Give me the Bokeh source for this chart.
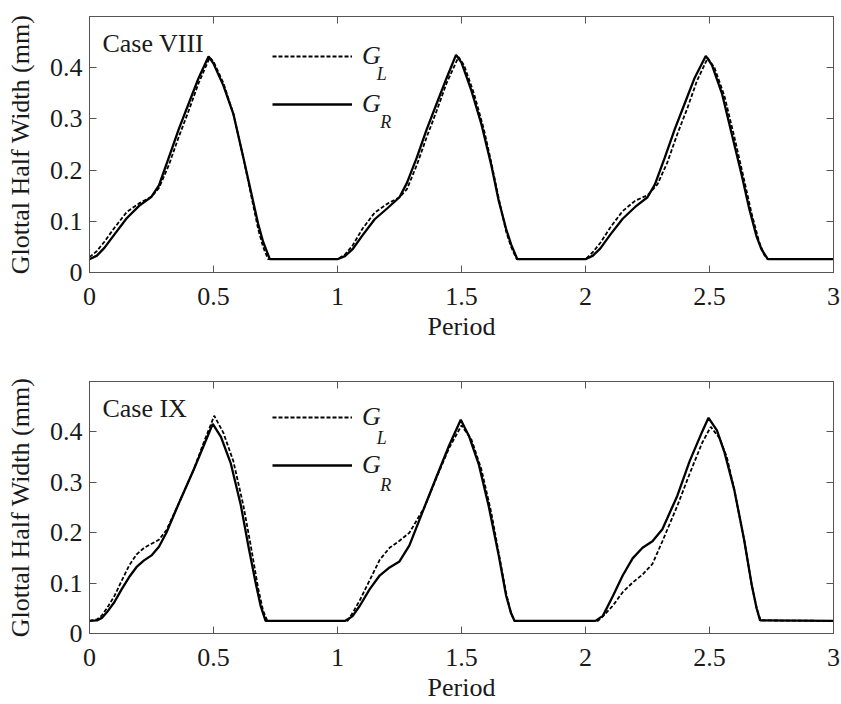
from bokeh.plotting import figure
from bokeh.models import Range1d, FixedTicker, LinearAxis, Legend, LegendItem, Label
from bokeh.layouts import column
from bokeh.embed import file_html
from bokeh.resources import INLINE

# ---------------- data ----------------
# Case VIII
x8_R = [0, 0.03, 0.06, 0.1, 0.15, 0.2, 0.25, 0.28, 0.32, 0.36, 0.40, 0.44, 0.48, 0.50, 0.54, 0.58, 0.62, 0.65, 0.68, 0.70, 0.727,
        1.0, 1.03, 1.06, 1.1, 1.15, 1.2, 1.25, 1.28, 1.32, 1.36, 1.40, 1.44, 1.478, 1.50, 1.54, 1.58, 1.62, 1.65, 1.68, 1.70, 1.725,
        2.0, 2.03, 2.06, 2.1, 2.15, 2.2, 2.25, 2.28, 2.32, 2.36, 2.40, 2.44, 2.485, 2.51, 2.55, 2.59, 2.63, 2.66, 2.69, 2.71, 2.735, 3.0]
y8_R = [0.026, 0.033, 0.048, 0.074, 0.106, 0.13, 0.148, 0.17, 0.225, 0.28, 0.33, 0.38, 0.422, 0.408, 0.365, 0.31, 0.225, 0.16, 0.095, 0.06, 0.026,
        0.026, 0.032, 0.045, 0.072, 0.104, 0.125, 0.147, 0.175, 0.225, 0.28, 0.33, 0.38, 0.425, 0.41, 0.355, 0.29, 0.21, 0.14, 0.085, 0.055, 0.026,
        0.026, 0.033, 0.047, 0.074, 0.105, 0.128, 0.147, 0.172, 0.225, 0.28, 0.33, 0.38, 0.423, 0.405, 0.35, 0.27, 0.19, 0.125, 0.07, 0.045, 0.026, 0.026]
x8_L = [0, 0.03, 0.06, 0.1, 0.15, 0.2, 0.25, 0.28, 0.32, 0.36, 0.40, 0.44, 0.485, 0.50, 0.54, 0.58, 0.62, 0.65, 0.68, 0.70, 0.72,
        1.0, 1.03, 1.06, 1.1, 1.15, 1.2, 1.25, 1.28, 1.32, 1.36, 1.40, 1.44, 1.488, 1.51, 1.55, 1.59, 1.62, 1.65, 1.68, 1.70, 1.723,
        2.0, 2.03, 2.06, 2.1, 2.15, 2.2, 2.25, 2.29, 2.33, 2.37, 2.41, 2.45, 2.493, 2.52, 2.56, 2.60, 2.64, 2.67, 2.70, 2.72, 2.735, 3.0]
y8_L = [0.03, 0.042, 0.06, 0.087, 0.118, 0.135, 0.148, 0.165, 0.21, 0.265, 0.316, 0.37, 0.42, 0.412, 0.37, 0.31, 0.225, 0.155, 0.085, 0.05, 0.026,
        0.026, 0.035, 0.052, 0.085, 0.117, 0.134, 0.147, 0.163, 0.21, 0.265, 0.316, 0.37, 0.421, 0.405, 0.35, 0.28, 0.215, 0.145, 0.08, 0.05, 0.026,
        0.026, 0.04, 0.058, 0.088, 0.12, 0.14, 0.151, 0.172, 0.215, 0.27, 0.32, 0.375, 0.419, 0.4, 0.345, 0.265, 0.18, 0.115, 0.06, 0.035, 0.026, 0.026]

# Case IX
x9_R = [0, 0.03, 0.05, 0.07, 0.1, 0.13, 0.16, 0.19, 0.22, 0.25, 0.28, 0.31, 0.36, 0.42, 0.46, 0.497, 0.53, 0.57, 0.61, 0.64, 0.67, 0.69, 0.71,
        1.03, 1.06, 1.09, 1.13, 1.17, 1.21, 1.25, 1.29, 1.35, 1.40, 1.45, 1.497, 1.53, 1.57, 1.61, 1.65, 1.68, 1.70, 1.714,
        2.04, 2.07, 2.11, 2.15, 2.19, 2.23, 2.27, 2.31, 2.37, 2.42, 2.47, 2.496, 2.53, 2.56, 2.60, 2.64, 2.67, 2.69, 2.704, 3.0]
y9_R = [0.025, 0.026, 0.031, 0.042, 0.062, 0.088, 0.112, 0.132, 0.145, 0.155, 0.172, 0.2, 0.258, 0.325, 0.372, 0.416, 0.39, 0.337, 0.255, 0.175, 0.1, 0.055, 0.025,
        0.025, 0.034, 0.055, 0.088, 0.115, 0.131, 0.143, 0.175, 0.25, 0.312, 0.373, 0.424, 0.392, 0.335, 0.252, 0.155, 0.075, 0.04, 0.025,
        0.025, 0.035, 0.074, 0.115, 0.149, 0.17, 0.183, 0.207, 0.273, 0.342, 0.4, 0.428, 0.403, 0.36, 0.285, 0.185, 0.097, 0.05, 0.026, 0.025]
x9_L = [0, 0.03, 0.05, 0.07, 0.1, 0.13, 0.16, 0.19, 0.22, 0.25, 0.28, 0.31, 0.36, 0.42, 0.46, 0.503, 0.54, 0.58, 0.62, 0.65, 0.68, 0.70, 0.717,
        1.04, 1.06, 1.09, 1.13, 1.17, 1.21, 1.25, 1.29, 1.35, 1.40, 1.45, 1.50, 1.54, 1.58, 1.62, 1.65, 1.68, 1.70, 1.714,
        2.05, 2.07, 2.11, 2.15, 2.19, 2.23, 2.27, 2.31, 2.37, 2.42, 2.47, 2.505, 2.54, 2.57, 2.60, 2.64, 2.67, 2.69, 2.706, 3.0]
y9_L = [0.025, 0.028, 0.036, 0.05, 0.074, 0.105, 0.135, 0.157, 0.17, 0.178, 0.186, 0.205, 0.258, 0.325, 0.378, 0.432, 0.398, 0.342, 0.255, 0.175, 0.09, 0.045, 0.025,
        0.025, 0.04, 0.066, 0.106, 0.146, 0.17, 0.184, 0.2, 0.25, 0.31, 0.368, 0.413, 0.385, 0.326, 0.24, 0.16, 0.08, 0.04, 0.025,
        0.025, 0.034, 0.055, 0.082, 0.101, 0.117, 0.138, 0.183, 0.253, 0.317, 0.378, 0.41, 0.388, 0.35, 0.285, 0.185, 0.097, 0.05, 0.026, 0.025]

x_ticks = [0, 0.5, 1, 1.5, 2, 2.5, 3]
x_tick_labels = ["0", "0.5", "1", "1.5", "2", "2.5", "3"]
y_ticks = [0, 0.1, 0.2, 0.3, 0.4]
y_tick_labels = ["0", "0.1", "0.2", "0.3", "0.4"]
case_labels = ["Case VIII", "Case IX"]
series_names = ["G", "G"]
series_subs = ["L", "R"]
x_title = "Period"
y_title = "Glottal Half Width (mm)"

FONT = "Liberation Serif"
AX = "#555555"
TXT = "#1a1a1a"


def style_axis(ax, labels):
    ax.ticker = FixedTicker(ticks=list(labels.keys()))
    ax.major_label_overrides = labels
    ax.major_tick_in = 7
    ax.major_tick_out = 0
    ax.minor_tick_line_color = None
    ax.axis_line_color = AX
    ax.major_tick_line_color = AX
    ax.major_label_text_font = FONT
    ax.major_label_text_font_size = "26px"
    ax.major_label_text_color = TXT
    ax.axis_label_text_font = FONT
    ax.axis_label_text_font_size = "26px"
    ax.axis_label_text_font_style = "normal"
    ax.axis_label_text_color = TXT


def make(xR, yR, xL, yL, case, top, bottom, height):
    p = figure(width=841, height=height, x_range=Range1d(0, 3), y_range=Range1d(0, 0.5),
               output_backend="svg", toolbar_location=None,
               min_border_left=89, min_border_right=8, min_border_top=top, min_border_bottom=bottom)
    p.grid.visible = False
    p.outline_line_color = AX
    p.background_fill_color = "white"
    p.border_fill_color = "white"

    style_axis(p.xaxis[0], dict(zip(x_ticks, x_tick_labels)))
    style_axis(p.yaxis[0], dict(zip(y_ticks, y_tick_labels)))
    p.xaxis[0].axis_label = x_title
    p.xaxis[0].major_label_standoff = 15
    p.xaxis[0].axis_label_standoff = 4
    p.yaxis[0].axis_label = y_title
    p.yaxis[0].major_label_standoff = 7
    p.yaxis[0].axis_label_standoff = 12

    ra = LinearAxis()
    style_axis(ra, {t: "" for t in y_ticks})
    ra.major_label_text_font_size = "1px"
    ra.major_label_standoff = 0
    p.add_layout(ra, "right")
    ta = LinearAxis()
    style_axis(ta, {t: "" for t in x_ticks})
    ta.major_label_text_font_size = "1px"
    ta.major_label_standoff = 0
    p.add_layout(ta, "above")

    rL = p.line(xL, yL, line_color="black", line_width=1.8, line_dash="4 2")
    rR = p.line(xR, yR, line_color="black", line_width=2.3)

    leg = Legend(items=[LegendItem(label=series_names[0], renderers=[rL]),
                        LegendItem(label=series_names[1], renderers=[rR])],
                 location=(183, 153), orientation="vertical",
                 glyph_width=80, glyph_height=30, label_height=30, spacing=18,
                 label_standoff=10, padding=0, margin=0,
                 border_line_color=None, background_fill_alpha=0,
                 label_text_font=FONT, label_text_font_style="italic",
                 label_text_font_size="26px", label_text_color=TXT)
    p.add_layout(leg)

    p.add_layout(Label(x=0.052, y=0.447, text=case, text_font=FONT, text_font_size="26px",
                       text_color=TXT, text_baseline="middle"))
    p.add_layout(Label(x=1.158, y=0.388, text=series_subs[0], text_font=FONT, text_font_size="18px",
                       text_font_style="italic", text_color=TXT, text_baseline="alphabetic"))
    p.add_layout(Label(x=1.172, y=0.294, text=series_subs[1], text_font=FONT, text_font_size="18px",
                       text_font_style="italic", text_color=TXT, text_baseline="alphabetic"))
    return p


p1 = make(x8_R, y8_R, x8_L, y8_L, case_labels[0], 16, 78, 350)
p2 = make(x9_R, y9_R, x9_L, y9_L, case_labels[1], 31, 68, 354)
layout = column(p1, p2, spacing=0)

open("out.html", "w").write(file_html(layout, INLINE))
